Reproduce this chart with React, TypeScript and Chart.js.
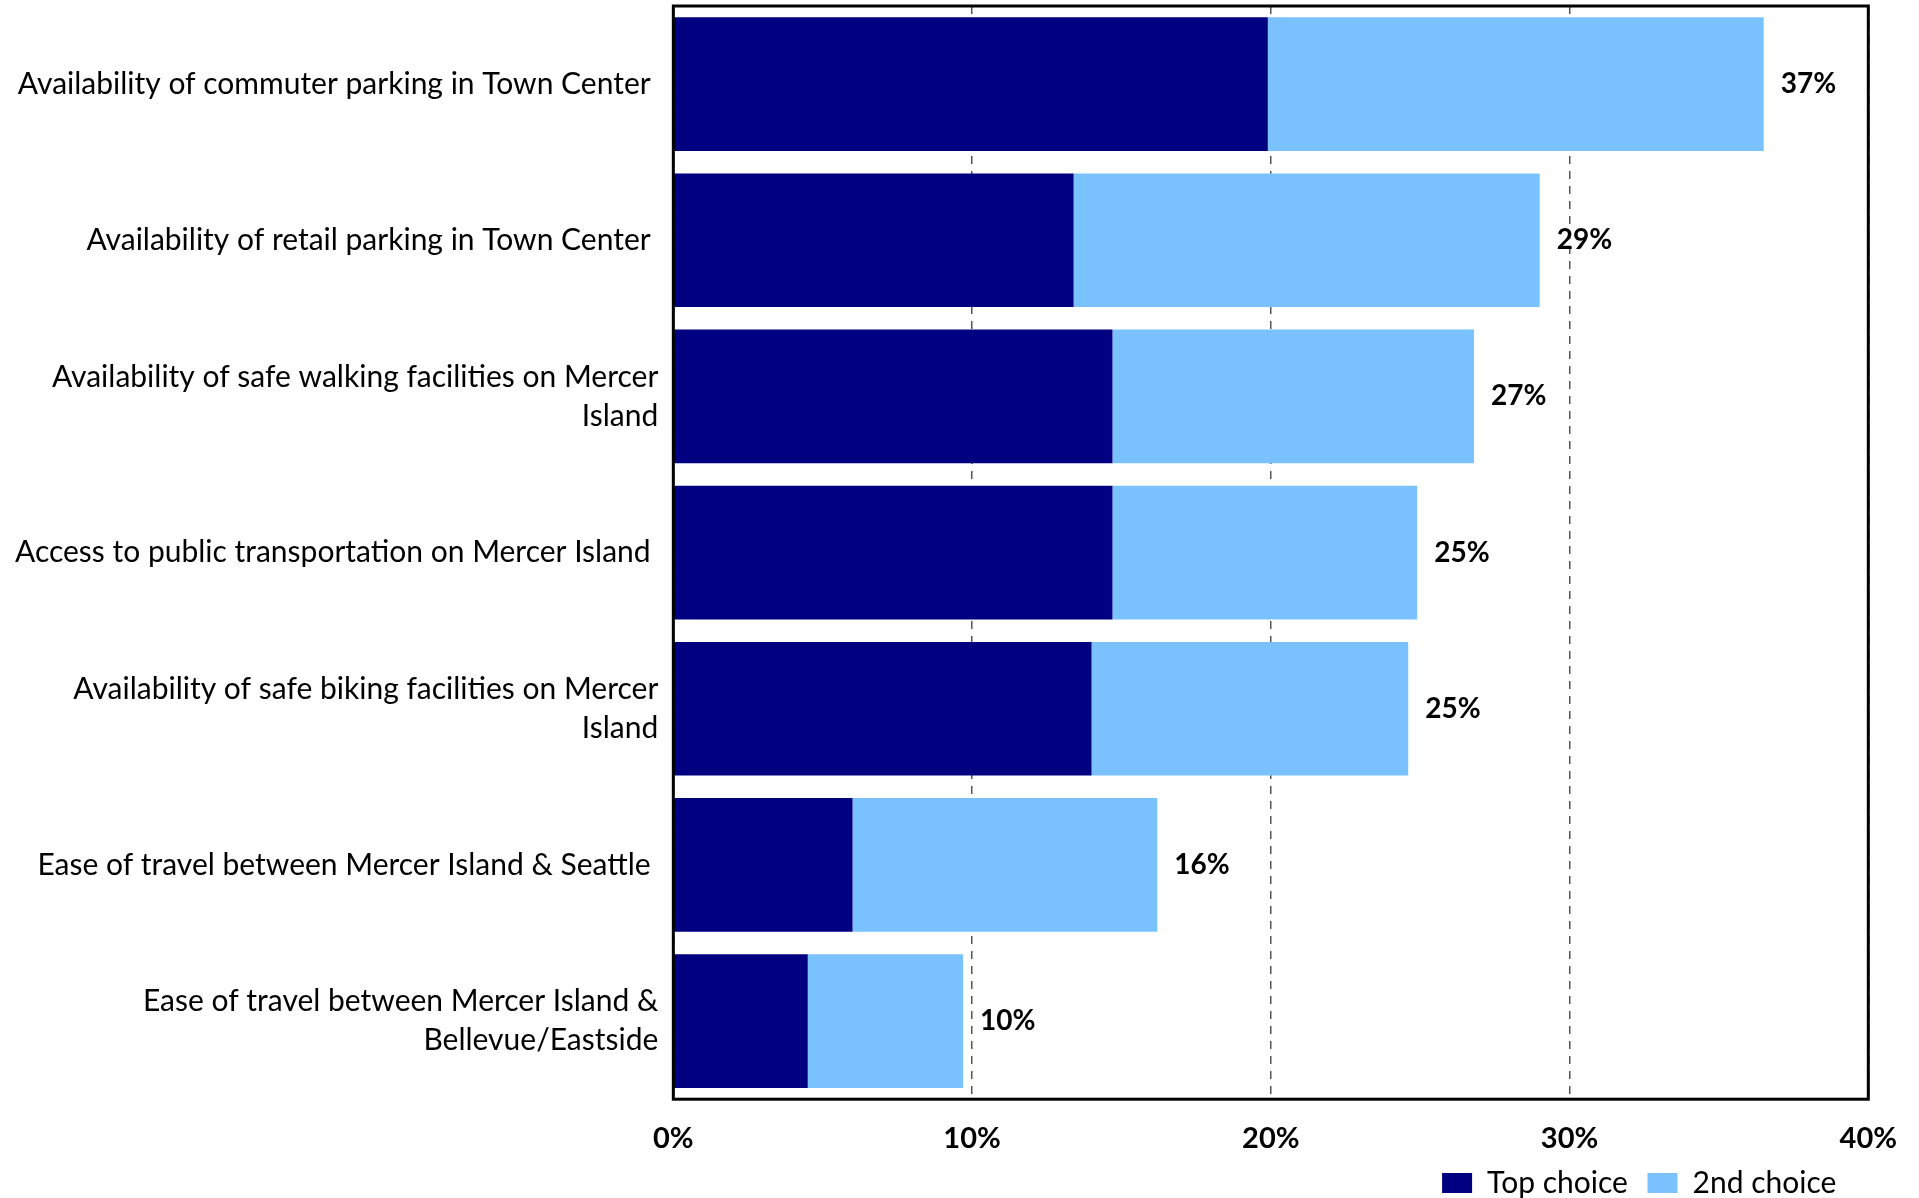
import React, { useEffect, useRef } from "react";
import { Chart, registerables } from "chart.js";

Chart.register(...registerables);

const categories: (string | string[])[] = [
  "Availability of commuter parking in Town Center ",
  "Availability of retail parking in Town Center ",
  ["Availability of safe walking facilities on Mercer", "Island"],
  "Access to public transportation on Mercer Island ",
  ["Availability of safe biking facilities on Mercer", "Island"],
  "Ease of travel between Mercer Island & Seattle ",
  ["Ease of travel between Mercer Island &", "Bellevue/Eastside"],
];

const topChoice = [19.9, 13.4, 14.7, 14.7, 14.0, 6.0, 4.5];
const secondChoice = [16.6, 15.6, 12.1, 10.2, 10.6, 10.2, 5.2];

const xTicks = [0, 10, 20, 30, 40];

const seriesNames = ["Top choice", "2nd choice"];
const seriesColors = ["#000080", "#7AC2FF"];

const FONT = "Lato";

const framePlugin = {
  id: "frame",
  afterLayout(chart: any) {
    const lg = chart.legend;
    if (lg) {
      lg.left -= 20;
      lg.right -= 20;
    }
  },
  afterDatasetsDraw(chart: any) {
    const { ctx, chartArea } = chart;
    ctx.save();
    ctx.strokeStyle = "#000000";
    ctx.lineWidth = 3;
    ctx.strokeRect(chartArea.left, chartArea.top, chartArea.right - chartArea.left, chartArea.bottom - chartArea.top);
    ctx.restore();
  },
};

const totalsPlugin = {
  id: "totals",
  afterDatasetsDraw(chart: any) {
    const { ctx } = chart;
    const meta = chart.getDatasetMeta(1);
    ctx.save();
    ctx.font = `bold 28px ${FONT}`;
    ctx.fillStyle = "#000000";
    ctx.textAlign = "left";
    ctx.textBaseline = "middle";
    meta.data.forEach((bar: any, i: number) => {
      const total = topChoice[i] + secondChoice[i];
      ctx.fillText(`${Math.round(total)}%`, bar.x + 17, bar.y);
    });
    ctx.restore();
  },
};

export default function App() {
  const canvasRef = useRef<HTMLCanvasElement>(null);

  useEffect(() => {
    if (!canvasRef.current) return;
    const chart = new Chart(canvasRef.current, {
      type: "bar",
      data: {
        labels: categories,
        datasets: [
          {
            label: seriesNames[0],
            data: topChoice,
            backgroundColor: seriesColors[0],
            categoryPercentage: 1,
            barPercentage: 0.856,
          },
          {
            label: seriesNames[1],
            data: secondChoice,
            backgroundColor: seriesColors[1],
            categoryPercentage: 1,
            barPercentage: 0.856,
          },
        ],
      },
      options: {
        indexAxis: "y",
        animation: false,
        responsive: true,
        maintainAspectRatio: false,
        layout: { padding: { top: 6, right: 9, left: 0, bottom: 0 } },
        scales: {
          x: {
            stacked: true,
            min: xTicks[0],
            max: xTicks[xTicks.length - 1],
            afterBuildTicks: (axis: any) => {
              axis.ticks = xTicks.map((v) => ({ value: v }));
            },
            afterFit: (axis: any) => {
              axis.height = 22 + 29 * 1.2;
            },
            border: { display: false, dash: [8, 7] },
            grid: {
              drawTicks: false,
              color: "#555555",
              lineWidth: 1.5,
            },
            ticks: {
              padding: 22,
              color: "#000000",
              font: { family: FONT, size: 29, weight: "bold" },
              callback: (v: any) => `${v}%`,
              maxRotation: 0,
            },
          },
          y: {
            stacked: true,
            border: { display: false },
            grid: { display: false, drawTicks: false },
            afterFit: (axis: any) => {
              axis.paddingTop = 0;
              axis.paddingBottom = 0;
            },
            ticks: {
              padding: 15,
              color: "#000000",
              font: { family: FONT, size: 30, lineHeight: 1.3 },
            },
          },
        },
        plugins: {
          legend: {
            position: "bottom",
            align: "end",
            fullSize: false,
            maxHeight: 42,
            labels: {
              boxWidth: 30,
              boxHeight: 20,
              padding: 12,
              color: "#000000",
              font: { family: FONT, size: 30 },
              generateLabels: (c: any) =>
                Chart.defaults.plugins.legend.labels.generateLabels(c).map((item: any, i: number) => ({
                  ...item,
                  text: i === 0 ? item.text + " " : item.text,
                  lineWidth: 0,
                })),
            },
          },
          tooltip: { enabled: false },
        },
      } as any,
      plugins: [framePlugin, totalsPlugin],
    });
    return () => chart.destroy();
  }, []);

  return (
    <div style={{ position: "fixed", left: 0, top: 0, width: 1919, height: 1198, background: "#ffffff" }}>
      <canvas ref={canvasRef} />
    </div>
  );
}
